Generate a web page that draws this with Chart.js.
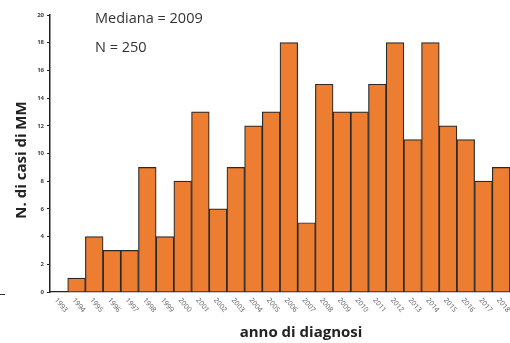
<!DOCTYPE html>
<html>
<head>
<meta charset="utf-8">
<script src="https://cdn.jsdelivr.net/npm/chart.js@4"></script>
<style>
  html, body { margin: 0; padding: 0; background: #fff; }
  #wrap { width: 510px; height: 343px; position: relative; }
</style>
</head>
<body>
<div id="wrap"><canvas id="chart" width="510" height="343"></canvas></div>
<script>
const years = ['1993', '1994', '1995', '1996', '1997', '1998', '1999', '2000', '2001',
  '2002', '2003', '2004', '2005', '2006', '2007', '2008', '2009', '2010', '2011',
  '2012', '2013', '2014', '2015', '2016', '2017', '2018'];
const cases = [0, 1, 4, 3, 3, 9, 4, 8, 13, 6, 9, 12, 13, 18, 5, 15, 13, 13, 15, 18, 11, 18, 12, 11, 8, 9];
const yTicks = [0, 2, 4, 6, 8, 10, 12, 14, 16, 18, 20];
const notes = ['Mediana = 2009', 'N = 250'];

// draws the rotated year labels, the axis titles and the notes
const extras = {
  id: 'extras',
  afterDraw(chart) {
    const ctx = chart.ctx;
    const x = chart.scales.x;
    ctx.save();

    ctx.fillStyle = '#555';
    ctx.font = '7px "Open Sans", sans-serif';
    ctx.textAlign = 'left';
    ctx.textBaseline = 'middle';
    years.forEach((y, i) => {
      ctx.save();
      ctx.translate(x.getPixelForTick(i) - 3, 299);
      ctx.rotate(50 * Math.PI / 180);
      ctx.fillText(y, 0, 0);
      ctx.restore();
    });

    ctx.fillStyle = '#222';
    ctx.font = 'bold 15px "Open Sans", sans-serif';
    ctx.textAlign = 'center';
    ctx.fillText('anno di diagnosi', 301, 333);

    ctx.save();
    ctx.translate(22, 160);
    ctx.rotate(-Math.PI / 2);
    ctx.fillText('N. di casi di MM', 0, 0);
    ctx.restore();

    ctx.fillStyle = '#333';
    ctx.font = '14.5px "Open Sans", sans-serif';
    ctx.textAlign = 'left';
    ctx.fillText(notes[0], 95, 19);
    ctx.fillText(notes[1], 95, 48);

    // leftover bits of the neighbouring figure at the left edge
    ctx.strokeStyle = '#333';
    ctx.lineWidth = 1;
    ctx.beginPath();
    ctx.moveTo(0, 294.5);
    ctx.lineTo(5, 294.5);
    ctx.stroke();

    ctx.restore();
  }
};

new Chart(document.getElementById('chart'), {
  type: 'bar',
  data: {
    labels: years,
    datasets: [{
      data: cases,
      backgroundColor: '#ED7D31',
      borderColor: '#2a2a2a',
      borderWidth: 1.2,
      categoryPercentage: 1,
      barPercentage: 1,
    }],
  },
  options: {
    responsive: false,
    animation: false,
    layout: { padding: { top: 15, right: 0, left: 0, bottom: 0 } },
    plugins: {
      legend: { display: false },
      tooltip: { enabled: false },
    },
    scales: {
      x: {
        ticks: { display: false },
        grid: { display: false },
        border: { display: true, color: '#222', width: 1.2 },
        afterFit: (s) => { s.height = 51; },
      },
      y: {
        min: 0,
        max: 20,
        afterBuildTicks: (s) => { s.ticks = yTicks.map((v) => ({ value: v })); },
        ticks: {
          color: '#444',
          font: { size: 6, family: 'Open Sans', weight: 'bold' },
          padding: 3,
        },
        grid: { drawOnChartArea: false, drawTicks: true, tickLength: 3, color: '#222', lineWidth: 1 },
        border: { display: true, color: '#222', width: 1.5 },
        afterFit: (s) => { s.width = 50; },
      },
    },
  },
  plugins: [extras],
});
</script>
</body>
</html>
